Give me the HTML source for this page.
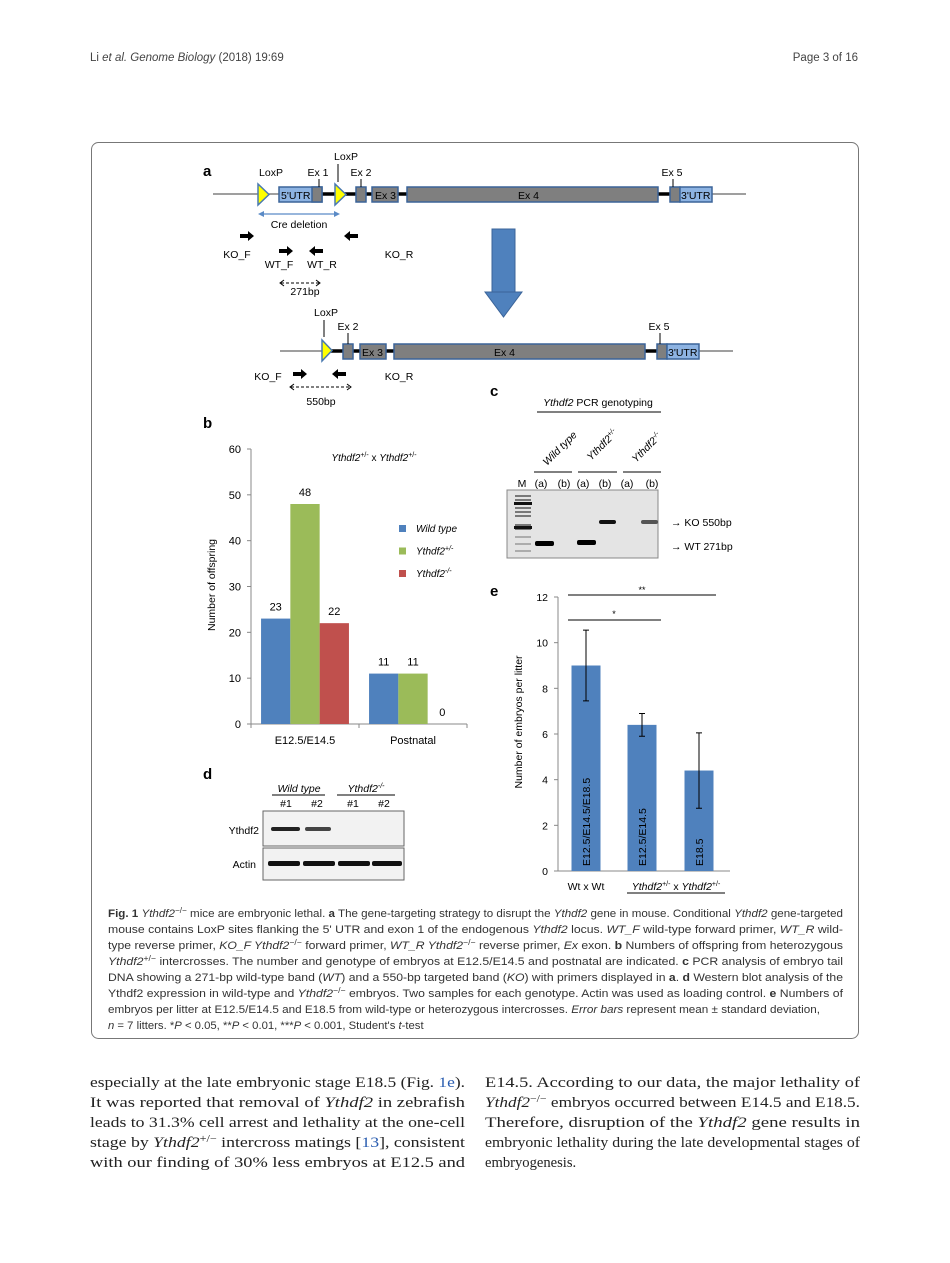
<!DOCTYPE html>
<html><head><meta charset="utf-8"><style>
body{margin:0;background:#fff}
svg{display:block;font-family:"Liberation Sans",sans-serif}
.cap{font-size:11.3px;fill:#333}
.body{font-family:"Liberation Serif",serif;font-size:14.6px;fill:#222}
</style></head><body>
<svg id="page" width="950" height="1263" viewBox="0 0 950 1263" xmlns="http://www.w3.org/2000/svg">
<text x="90" y="61" font-size="11.5" fill="#444">Li <tspan font-style="italic">et al. Genome Biology</tspan> (2018) 19:69</text>
<text x="858" y="61" font-size="11.5" fill="#444" text-anchor="end">Page 3 of 16</text>
<rect x="91.5" y="142.5" width="767" height="896" rx="7" fill="none" stroke="#777" stroke-width="1"/>

<!-- Panel a -->
<g font-size="10.5" fill="#000">
<text x="203" y="176" font-size="15" font-weight="bold">a</text>
<line x1="213" y1="194" x2="746" y2="194" stroke="#666" stroke-width="1.2"/>
<line x1="318" y1="194" x2="407" y2="194" stroke="#000" stroke-width="3.5"/>
<line x1="658" y1="194" x2="670" y2="194" stroke="#000" stroke-width="3.5"/>
<polygon points="258,184 258,205 269,194.5" fill="#ffff00" stroke="#4a7ab0" stroke-width="1.5"/>
<rect x="279" y="187" width="43" height="15" fill="#8db3e2" stroke="#3b6499" stroke-width="1.5"/>
<rect x="312" y="187" width="10" height="15" fill="#7f7f7f" stroke="#3b6499" stroke-width="1.5"/>
<text x="281" y="199" font-size="10.5">5'UTR</text>
<polygon points="335,184 335,205 346,194.5" fill="#ffff00" stroke="#4a7ab0" stroke-width="1.5"/>
<rect x="356" y="187" width="10" height="15" fill="#7f7f7f" stroke="#3b6499" stroke-width="1.5"/>
<rect x="372" y="187" width="26" height="15" fill="#7f7f7f" stroke="#3b6499" stroke-width="1.5"/>
<text x="375" y="199">Ex 3</text>
<rect x="407" y="187" width="251" height="15" fill="#7f7f7f" stroke="#3b6499" stroke-width="1.5"/>
<text x="518" y="199">Ex  4</text>
<rect x="670" y="187" width="10" height="15" fill="#7f7f7f" stroke="#3b6499" stroke-width="1.5"/>
<rect x="680" y="187" width="32" height="15" fill="#8db3e2" stroke="#3b6499" stroke-width="1.5"/>
<text x="681" y="199">3'UTR</text>
<text x="271" y="176" text-anchor="middle">LoxP</text>
<text x="346" y="160" text-anchor="middle">LoxP</text>
<line x1="338" y1="164" x2="338" y2="182" stroke="#000"/>
<text x="318" y="176" text-anchor="middle">Ex 1</text>
<line x1="319" y1="179" x2="319" y2="187" stroke="#000"/>
<text x="361" y="176" text-anchor="middle">Ex 2</text>
<line x1="361" y1="179" x2="361" y2="187" stroke="#000"/>
<text x="672" y="176" text-anchor="middle">Ex 5</text>
<line x1="673" y1="179" x2="673" y2="187" stroke="#000"/>
<line x1="262" y1="214" x2="336" y2="214" stroke="#5a8ac6" stroke-width="1.2"/>
<polygon points="258,214 264,211 264,217" fill="#5a8ac6"/><polygon points="340,214 334,211 334,217" fill="#5a8ac6"/>
<text x="299" y="228" text-anchor="middle">Cre deletion</text>
<polygon points="240,234 248,234 248,231 254,236 248,241 248,238 240,238" fill="#000"/>
<polygon points="358,234 350,234 350,231 344,236 350,241 350,238 358,238" fill="#000"/>
<polygon points="279,249 287,249 287,246 293,251 287,256 287,253 279,253" fill="#000"/>
<polygon points="323,249 315,249 315,246 309,251 315,256 315,253 323,253" fill="#000"/>
<text x="237" y="258" text-anchor="middle">KO_F</text>
<text x="399" y="258" text-anchor="middle">KO_R</text>
<text x="279" y="268" text-anchor="middle">WT_F</text>
<text x="322" y="268" text-anchor="middle">WT_R</text>
<line x1="281" y1="283" x2="319" y2="283" stroke="#000" stroke-dasharray="3,2"/>
<path d="M284,280 L280,283 L284,286 M316,280 L320,283 L316,286" fill="none" stroke="#000"/>
<text x="305" y="295" text-anchor="middle">271bp</text>
<g>
<rect x="492" y="229" width="23" height="63" fill="#4f81bd" stroke="#3b6499"/>
<polygon points="485,292 522,292 503.5,317" fill="#4f81bd" stroke="#3b6499"/>
</g>
<line x1="280" y1="351" x2="733" y2="351" stroke="#666" stroke-width="1.2"/>
<line x1="330" y1="351" x2="395" y2="351" stroke="#000" stroke-width="3.5"/>
<line x1="645" y1="351" x2="657" y2="351" stroke="#000" stroke-width="3.5"/>
<polygon points="322,340 322,361 332,350.5" fill="#ffff00" stroke="#4a7ab0" stroke-width="1.5"/>
<rect x="343" y="344" width="10" height="15" fill="#7f7f7f" stroke="#3b6499" stroke-width="1.5"/>
<rect x="360" y="344" width="26" height="15" fill="#7f7f7f" stroke="#3b6499" stroke-width="1.5"/>
<text x="362" y="356">Ex 3</text>
<rect x="394" y="344" width="251" height="15" fill="#7f7f7f" stroke="#3b6499" stroke-width="1.5"/>
<text x="494" y="356">Ex  4</text>
<rect x="657" y="344" width="10" height="15" fill="#7f7f7f" stroke="#3b6499" stroke-width="1.5"/>
<rect x="667" y="344" width="32" height="15" fill="#8db3e2" stroke="#3b6499" stroke-width="1.5"/>
<text x="668" y="356">3'UTR</text>
<text x="326" y="316" text-anchor="middle">LoxP</text>
<line x1="324" y1="320" x2="324" y2="337" stroke="#000"/>
<text x="348" y="330" text-anchor="middle">Ex 2</text>
<line x1="348" y1="333" x2="348" y2="344" stroke="#000"/>
<text x="659" y="330" text-anchor="middle">Ex 5</text>
<line x1="660" y1="333" x2="660" y2="344" stroke="#000"/>
<text x="268" y="380" text-anchor="middle">KO_F</text>
<polygon points="293,372 301,372 301,369 307,374 301,379 301,376 293,376" fill="#000"/>
<polygon points="346,372 338,372 338,369 332,374 338,379 338,376 346,376" fill="#000"/>
<text x="399" y="380" text-anchor="middle">KO_R</text>
<line x1="291" y1="387" x2="350" y2="387" stroke="#000" stroke-dasharray="3,2"/>
<path d="M294,384 L290,387 L294,390 M347,384 L351,387 L347,390" fill="none" stroke="#000"/>
<text x="321" y="405" text-anchor="middle">550bp</text>
</g>

<!-- Panel b -->
<g id="chartB" font-size="11">
<text x="203" y="428" font-size="15" font-weight="bold">b</text>
<text x="374" y="461" text-anchor="middle" font-size="10"><tspan font-style="italic">Ythdf2</tspan><tspan font-size="7" dy="-4">+/-</tspan><tspan dy="4">  x  </tspan><tspan font-style="italic">Ythdf2</tspan><tspan font-size="7" dy="-4">+/-</tspan></text>
<text transform="translate(215,585) rotate(-90)" text-anchor="middle" font-size="10.5">Number of offspring</text>
</g>

<!-- Panel c -->
<g font-size="10.5">
<text x="490" y="396" font-size="15" font-weight="bold">c</text>
<text x="598" y="406" text-anchor="middle"><tspan font-style="italic">Ythdf2</tspan> PCR genotyping</text>
<line x1="537" y1="412" x2="661" y2="412" stroke="#000"/>
<text transform="translate(547,466) rotate(-45)" font-style="italic">Wild type</text>
<text transform="translate(591,461) rotate(-45)" font-style="italic">Ythdf2<tspan font-size="7" dy="-4">+/-</tspan></text>
<text transform="translate(636,463) rotate(-45)" font-style="italic">Ythdf2<tspan font-size="7" dy="-4">-/-</tspan></text>
<line x1="534" y1="472" x2="572" y2="472" stroke="#000"/>
<line x1="578" y1="472" x2="617" y2="472" stroke="#000"/>
<line x1="623" y1="472" x2="661" y2="472" stroke="#000"/>
<text y="487" text-anchor="middle"><tspan x="522">M</tspan><tspan x="541">(a)</tspan><tspan x="564">(b)</tspan><tspan x="583">(a)</tspan><tspan x="605">(b)</tspan><tspan x="627">(a)</tspan><tspan x="652">(b)</tspan></text>
<rect x="507" y="490" width="151" height="68" fill="#e4e4e4" stroke="#888"/>
<g stroke="#555" stroke-width="1.5">
<line x1="515" y1="496" x2="531" y2="496"/><line x1="515" y1="500" x2="531" y2="500"/><line x1="515" y1="504" x2="531" y2="504"/><line x1="515" y1="508" x2="531" y2="508"/><line x1="515" y1="512" x2="531" y2="512"/><line x1="515" y1="516" x2="531" y2="516"/><line x1="515" y1="525" x2="531" y2="525"/><line x1="515" y1="529" x2="531" y2="529"/><line x1="515" y1="537" x2="531" y2="537" stroke="#999"/><line x1="515" y1="544" x2="531" y2="544" stroke="#999"/><line x1="515" y1="551" x2="531" y2="551" stroke="#999"/>
</g>
<rect x="514" y="502" width="18" height="3" fill="#111"/><rect x="514" y="526" width="18" height="3" fill="#111"/>
<rect x="535" y="541" width="19" height="5" rx="2" fill="#000"/>
<rect x="577" y="540" width="19" height="5" rx="2" fill="#000"/>
<rect x="599" y="520" width="17" height="4" rx="2" fill="#111"/>
<rect x="641" y="520" width="17" height="4" rx="2" fill="#555"/>
<text x="671" y="526">→ KO 550bp</text>
<text x="671" y="550">→ WT 271bp</text>
</g>

<!-- Panel d -->
<g font-size="10.5">
<text x="203" y="779" font-size="15" font-weight="bold">d</text>
<text x="299" y="792" text-anchor="middle" font-style="italic">Wild type</text>
<text x="366" y="792" text-anchor="middle" font-style="italic">Ythdf2<tspan font-size="7" dy="-4">-/-</tspan></text>
<line x1="272" y1="795" x2="325" y2="795" stroke="#000"/><line x1="337" y1="795" x2="395" y2="795" stroke="#000"/>
<text y="807" text-anchor="middle"><tspan x="286">#1</tspan><tspan x="317">#2</tspan><tspan x="353">#1</tspan><tspan x="384">#2</tspan></text>
<rect x="263" y="811" width="141" height="35" fill="#f2f2f2" stroke="#666"/>
<rect x="263" y="848" width="141" height="32" fill="#f2f2f2" stroke="#666"/>
<rect x="271" y="827" width="29" height="4" rx="2" fill="#222"/>
<rect x="305" y="827" width="26" height="4" rx="2" fill="#444"/>
<rect x="268" y="861" width="32" height="5" rx="2" fill="#111"/><rect x="303" y="861" width="32" height="5" rx="2" fill="#111"/><rect x="338" y="861" width="32" height="5" rx="2" fill="#111"/><rect x="372" y="861" width="30" height="5" rx="2" fill="#111"/>
<text x="259" y="834" text-anchor="end">Ythdf2</text>
<text x="256" y="868" text-anchor="end">Actin</text>
</g>

<!-- Panel e -->
<g id="chartE" font-size="10.5">
<text x="490" y="596" font-size="15" font-weight="bold">e</text>
<text transform="translate(522,722) rotate(-90)" text-anchor="middle">Number of embryos per litter</text>
<line x1="568" y1="595" x2="716" y2="595" stroke="#000"/><text x="642" y="593" text-anchor="middle" font-size="9">**</text>
<line x1="568" y1="620" x2="661" y2="620" stroke="#000"/><text x="614" y="617" text-anchor="middle" font-size="9">*</text>
<text x="586" y="890" text-anchor="middle">Wt x Wt</text>
<text x="676" y="890" text-anchor="middle"><tspan font-style="italic">Ythdf2</tspan><tspan font-size="7" dy="-4">+/-</tspan><tspan dy="4"> x </tspan><tspan font-style="italic">Ythdf2</tspan><tspan font-size="7" dy="-4">+/-</tspan></text>
<line x1="627" y1="893" x2="725" y2="893" stroke="#000"/>
</g>

<!-- Caption -->
<g class="cap">
<text x="108" y="917" textLength="735" lengthAdjust="spacingAndGlyphs"><tspan font-weight="bold">Fig. 1</tspan> <tspan font-style="italic">Ythdf2</tspan><tspan font-size="8" dy="-4">−/−</tspan><tspan dy="4"> mice are embryonic lethal. </tspan><tspan font-weight="bold">a</tspan> The gene-targeting strategy to disrupt the <tspan font-style="italic">Ythdf2</tspan> gene in mouse. Conditional <tspan font-style="italic">Ythdf2</tspan> gene-targeted</text>
<text x="108" y="933" textLength="735" lengthAdjust="spacingAndGlyphs">mouse contains LoxP sites flanking the 5' UTR and exon 1 of the endogenous <tspan font-style="italic">Ythdf2</tspan> locus. <tspan font-style="italic">WT_F</tspan> wild-type forward primer, <tspan font-style="italic">WT_R</tspan> wild-</text>
<text x="108" y="949" textLength="735" lengthAdjust="spacingAndGlyphs">type reverse primer, <tspan font-style="italic">KO_F Ythdf2</tspan><tspan font-size="8" dy="-4">−/−</tspan><tspan dy="4"> forward primer, </tspan><tspan font-style="italic">WT_R Ythdf2</tspan><tspan font-size="8" dy="-4">−/−</tspan><tspan dy="4"> reverse primer, </tspan><tspan font-style="italic">Ex</tspan> exon. <tspan font-weight="bold">b</tspan> Numbers of offspring from heterozygous</text>
<text x="108" y="965" textLength="735" lengthAdjust="spacingAndGlyphs"><tspan font-style="italic">Ythdf2</tspan><tspan font-size="8" dy="-4">+/−</tspan><tspan dy="4"> intercrosses. The number and genotype of embryos at E12.5/E14.5 and postnatal are indicated. </tspan><tspan font-weight="bold">c</tspan> PCR analysis of embryo tail</text>
<text x="108" y="981" textLength="735" lengthAdjust="spacingAndGlyphs">DNA showing a 271-bp wild-type band (<tspan font-style="italic">WT</tspan>) and a 550-bp targeted band (<tspan font-style="italic">KO</tspan>) with primers displayed in <tspan font-weight="bold">a</tspan>. <tspan font-weight="bold">d</tspan> Western blot analysis of the</text>
<text x="108" y="997" textLength="735" lengthAdjust="spacingAndGlyphs">Ythdf2 expression in wild-type and <tspan font-style="italic">Ythdf2</tspan><tspan font-size="8" dy="-4">−/−</tspan><tspan dy="4"> embryos. Two samples for each genotype. Actin was used as loading control. </tspan><tspan font-weight="bold">e</tspan> Numbers of</text>
<text x="108" y="1013" textLength="712" lengthAdjust="spacingAndGlyphs">embryos per litter at E12.5/E14.5 and E18.5 from wild-type or heterozygous intercrosses. <tspan font-style="italic">Error bars</tspan> represent mean ± standard deviation,</text>
<text x="108" y="1029"><tspan font-style="italic">n</tspan> = 7 litters. *<tspan font-style="italic">P</tspan> &lt; 0.05, **<tspan font-style="italic">P</tspan> &lt; 0.01, ***<tspan font-style="italic">P</tspan> &lt; 0.001, Student's <tspan font-style="italic">t</tspan>-test</text>
</g>

<!-- Body text -->
<g class="body">
<text x="90" y="1087" textLength="375" lengthAdjust="spacingAndGlyphs">especially at the late embryonic stage E18.5 (Fig. <tspan fill="#2a5db0">1e</tspan>).</text>
<text x="90" y="1107" textLength="375" lengthAdjust="spacingAndGlyphs">It was reported that removal of <tspan font-style="italic">Ythdf2</tspan> in zebrafish</text>
<text x="90" y="1127" textLength="375" lengthAdjust="spacingAndGlyphs">leads to 31.3% cell arrest and lethality at the one-cell</text>
<text x="90" y="1147" textLength="375" lengthAdjust="spacingAndGlyphs">stage by <tspan font-style="italic">Ythdf2</tspan><tspan font-size="10" dy="-5">+/−</tspan><tspan dy="5"> intercross matings [</tspan><tspan fill="#2a5db0">13</tspan>], consistent</text>
<text x="90" y="1167" textLength="375" lengthAdjust="spacingAndGlyphs">with our finding of 30% less embryos at E12.5 and</text>
<text x="485" y="1087" textLength="375" lengthAdjust="spacingAndGlyphs">E14.5. According to our data, the major lethality of</text>
<text x="485" y="1107" textLength="375" lengthAdjust="spacingAndGlyphs"><tspan font-style="italic">Ythdf2</tspan><tspan font-size="10" dy="-5">−/−</tspan><tspan dy="5"> embryos occurred between E14.5 and E18.5.</tspan></text>
<text x="485" y="1127" textLength="375" lengthAdjust="spacingAndGlyphs">Therefore, disruption of the <tspan font-style="italic">Ythdf2</tspan> gene results in</text>
<text x="485" y="1147" textLength="375" lengthAdjust="spacingAndGlyphs">embryonic lethality during the late developmental stages of</text>
<text x="485" y="1167">embryogenesis.</text>
</g>
</svg>
<script>
// Panel b data
const bCategories = ["E12.5/E14.5", "Postnatal"];
const bSeriesNames = ["Wild type", "Ythdf2+/-", "Ythdf2-/-"];
const bWildType = [23, 11];
const bHet = [48, 11];
const bKO = [22, 0];
const bTicks = [0, 10, 20, 30, 40, 50, 60];
// Panel e data
const eCategories = ["E12.5/E14.5/E18.5", "E12.5/E14.5", "E18.5"];
const eMeans = [9, 6.4, 4.4];
const eSD = [1.55, 0.5, 1.65];
const eTicks = [0, 2, 4, 6, 8, 10, 12];

const NS = "http://www.w3.org/2000/svg";
function mk(parent, tag, attrs, text) {
  const el = document.createElementNS(NS, tag);
  for (const k in attrs) el.setAttribute(k, attrs[k]);
  if (text !== undefined) el.textContent = text;
  parent.appendChild(el);
  return el;
}
// chart b
(function () {
  const g = document.getElementById("chartB");
  const y0 = 724, yTop = 449, x0 = 251, x1 = 467;
  const yS = v => y0 - (v / 60) * (y0 - yTop);
  const series = [bWildType, bHet, bKO];
  const colors = ["#4f81bd", "#9bbb59", "#c0504d"];
  const groupW = (x1 - x0) / bCategories.length;
  const barW = 29.3;
  let l = mk(g, "line", { x1: x0, y1: yTop, x2: x0, y2: y0, stroke: "#888" });
  
  
  l = mk(g, "line", { x1: x0, y1: y0, x2: x1, y2: y0, stroke: "#888" });
  
  
  bTicks.forEach(t => {
    const tk = mk(g, "text", { x: x0 - 10, y: yS(t) + 4, "text-anchor": "end" }, String(t));
    
    
    mk(g, "line", { x1: x0 - 4, y1: yS(t), x2: x0, y2: yS(t), stroke: "#888" });
  });
  for (let i = 0; i <= bCategories.length; i++) {
    mk(g, "line", { x1: x0 + groupW * i, y1: y0, x2: x0 + groupW * i, y2: y0 + 4, stroke: "#888" });
  }
  bCategories.forEach((c, i) => {
    const cx = x0 + groupW * (i + 0.5);
    const cl = mk(g, "text", { x: cx, y: 744, "text-anchor": "middle" }, c);
    
    
    series.forEach((s, j) => {
      const bx = cx - 1.5 * barW + j * barW;
      const r = mk(g, "rect", { x: bx, y: yS(s[i]), width: barW, height: y0 - yS(s[i]), fill: colors[j] });
      
      
      const vl = mk(g, "text", { x: bx + barW / 2, y: yS(s[i]) - 8, "text-anchor": "middle" }, String(s[i]));
      
      
    });
  });
  bSeriesNames.forEach((n, j) => {
    const ly = 529 + j * 22.5;
    const sq = mk(g, "rect", { x: 399, y: ly - 4, width: 7, height: 7, fill: colors[j] });
    
    
    const m = n.match(/^(Ythdf2)(.*)$/);
    const t = mk(g, "text", { x: 416, y: ly + 3, "font-size": "10", "font-style": "italic" });
    
    
    if (m) {
      mk(t, "tspan", {}, m[1]);
      mk(t, "tspan", { "font-size": "7", dy: "-4" }, m[2]);
    } else t.textContent = n;
  });
})();
// chart e
(function () {
  const g = document.getElementById("chartE");
  const y0 = 871, yTop = 597, x0 = 558, x1 = 730;
  const yS = v => y0 - (v / 12) * (y0 - yTop);
  const xs = [586, 642, 699];
  const barW = 29;
  let l = mk(g, "line", { x1: x0, y1: yTop, x2: x0, y2: y0, stroke: "#888" });
  
  
  l = mk(g, "line", { x1: x0, y1: y0, x2: x1, y2: y0, stroke: "#888" });
  
  
  eTicks.forEach(t => {
    const tk = mk(g, "text", { x: x0 - 10, y: yS(t) + 4, "text-anchor": "end" }, String(t));
    
    
    mk(g, "line", { x1: x0 - 4, y1: yS(t), x2: x0, y2: yS(t), stroke: "#888" });
  });
  eMeans.forEach((v, i) => {
    const cx = xs[i];
    const r = mk(g, "rect", { x: cx - barW / 2, y: yS(v), width: barW, height: y0 - yS(v), fill: "#4f81bd" });
    
    
    const e = mk(g, "path", { d: `M${cx},${yS(v + eSD[i])}V${yS(v - eSD[i])}M${cx - 3},${yS(v + eSD[i])}H${cx + 3}M${cx - 3},${yS(v - eSD[i])}H${cx + 3}`, stroke: "#000", fill: "none" });
    
    
    const t = mk(g, "text", { transform: `translate(${cx + 4},${y0 - 5}) rotate(-90)` }, eCategories[i]);
    
    
  });
})();
</script>
</body></html>
